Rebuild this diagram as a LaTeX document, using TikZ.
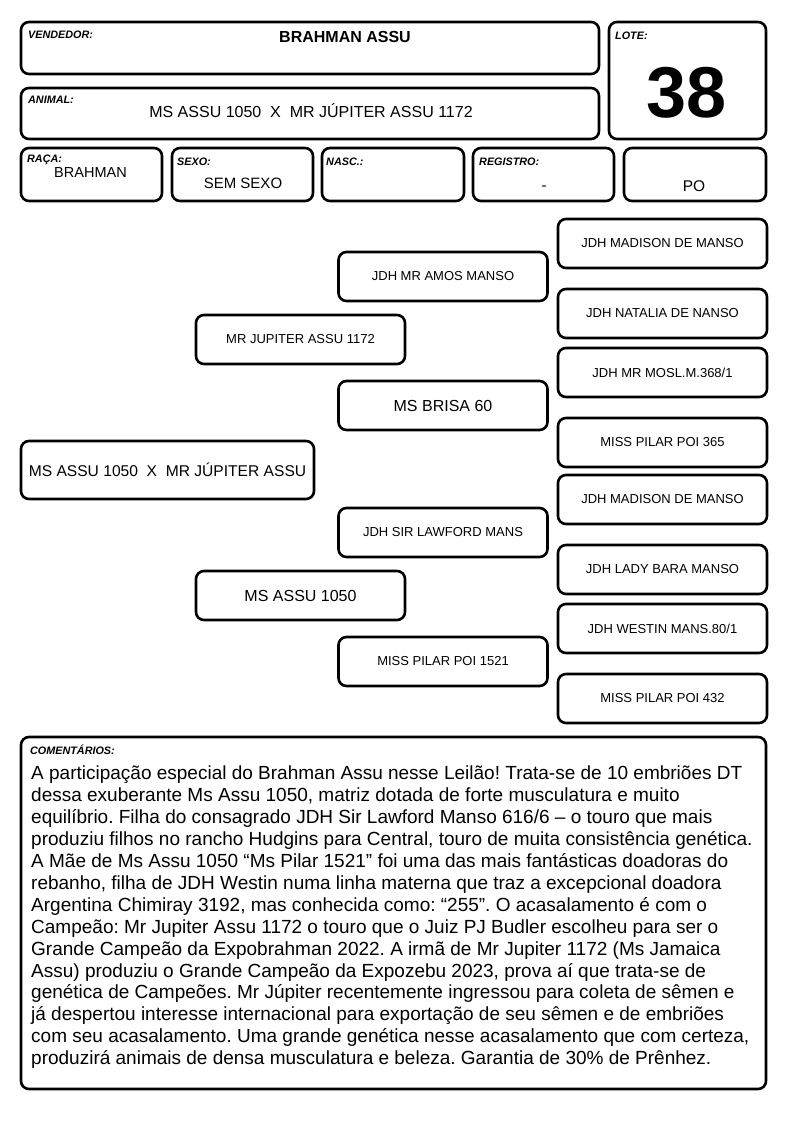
\documentclass[tikz,border=0pt]{standalone}
\usepackage{fontspec}
\setmainfont{Liberation Sans}
\frenchspacing
\begin{document}
\begin{tikzpicture}[x=1pt,y=-1pt,
  card/.style={draw=black, line width=2.6pt, rounded corners=8pt, inner sep=0pt},
  lbl/.style={anchor=north west, inner sep=0pt, font=\fontsize{10.8}{12}\selectfont\bfseries\itshape},
  val/.style={anchor=base, inner sep=0pt},
  ped/.style={card, minimum width=209pt, minimum height=49pt, align=center, font=\fontsize{13}{15}\selectfont},
  pedbig/.style={ped, font=\fontsize{16}{18}\selectfont}]
\useasboundingbox (0,0) rectangle (794,1123);
% header
\node[card, minimum width=578pt, minimum height=52pt] (vend) at (310,48) {};
\node[lbl] (vendl) at (28,31) {VENDEDOR:};
\node[val, font=\fontsize{16}{18}\selectfont\bfseries] (vendv) at (345,43) {BRAHMAN ASSU};
\node[card, minimum width=157pt, minimum height=117pt] (lote) at (687.5,80.5) {};
\node[lbl] (lotel) at (615,32) {LOTE:};
\node[val, font=\fontsize{72}{80}\selectfont\bfseries] (lotev) at (686.5,118) {38};
\node[card, minimum width=578pt, minimum height=51pt] (anim) at (310,113.5) {};
\node[lbl] (animl) at (28,96) {ANIMAL:};
\node[val, font=\fontsize{16}{18}\selectfont] (animv) at (311,118) {MS ASSU 1050\ \ X\ \ MR JÚPITER ASSU 1172};
\node[card, minimum width=141pt, minimum height=53pt] (raca) at (91.5,174.5) {};
\node[lbl] (racal) at (27,155) {RAÇA:};
\node[val, font=\fontsize{14.5}{17}\selectfont] (racav) at (90.5,178) {BRAHMAN};
\node[card, minimum width=141pt, minimum height=53pt] (sexo) at (242.5,174.5) {};
\node[lbl] (sexol) at (177,158) {SEXO:};
\node[val, font=\fontsize{15}{17}\selectfont] (sexov) at (243,189) {SEM SEXO};
\node[card, minimum width=142pt, minimum height=53pt] (nasc) at (393,174.5) {};
\node[lbl] (nascl) at (326,158) {NASC.:};
\node[card, minimum width=141pt, minimum height=53pt] (reg) at (543.5,174.5) {};
\node[lbl] (regl) at (479,158) {REGISTRO:};
\node[val, font=\fontsize{15}{17}\selectfont] (regv) at (544,191) {-};
\node[card, minimum width=142pt, minimum height=53pt] (po) at (695,174.5) {};
\node[val, font=\fontsize{15.5}{17}\selectfont] (pov) at (694,192) {PO};
% pedigree
\node[ped, font=\fontsize{15.6}{18}\selectfont, minimum width=293pt, minimum height=58pt] (g0) at (167.5,470) {MS ASSU 1050\ \ X\ \ MR JÚPITER ASSU};
\node[ped] (g1a) at (300.5,339.5) {MR JUPITER ASSU 1172};
\node[pedbig] (g1b) at (300.5,595.5) {MS ASSU 1050};
\node[ped] (g2a) at (443,276.5) {JDH MR AMOS MANSO};
\node[pedbig] (g2b) at (443,405.5) {MS BRISA 60};
\node[ped] (g2c) at (443,532.5) {JDH SIR LAWFORD MANS};
\node[ped] (g2d) at (443,661.5) {MISS PILAR POI 1521};
\node[ped] (g3a) at (662.5,243.5) {JDH MADISON DE MANSO};
\node[ped] (g3b) at (662.5,313.5) {JDH NATALIA DE NANSO};
\node[ped] (g3c) at (662.5,372.5) {JDH MR MOSL.M.368/1};
\node[ped] (g3d) at (662.5,442.5) {MISS PILAR POI 365};
\node[ped] (g3e) at (662.5,499.5) {JDH MADISON DE MANSO};
\node[ped] (g3f) at (662.5,569.5) {JDH LADY BARA MANSO};
\node[ped] (g3g) at (662.5,628.5) {JDH WESTIN MANS.80/1};
\node[ped] (g3h) at (662.5,698.5) {MISS PILAR POI 432};
% comments
\node[card, minimum width=745pt, minimum height=352pt] (com) at (393.5,913) {};
\node[lbl] (coml) at (30,745) {COMENTÁRIOS:};
\node[anchor=north west, inner sep=0pt, align=left, font=\fontsize{19}{21.9}\selectfont] (comv) at (31,766) {A participação especial do Brahman Assu nesse Leilão! Trata-se de 10 embriões DT\\
dessa exuberante Ms Assu 1050, matriz dotada de forte musculatura e muito\\
equilíbrio. Filha do consagrado JDH Sir Lawford Manso 616/6 – o touro que mais\\
produziu filhos no rancho Hudgins para Central, touro de muita consistência genética.\\
A Mãe de Ms Assu 1050 “Ms Pilar 1521” foi uma das mais fantásticas doadoras do\\
rebanho, filha de JDH Westin numa linha materna que traz a excepcional doadora\\
Argentina Chimiray 3192, mas conhecida como: “255”. O acasalamento é com o\\
Campeão: Mr Jupiter Assu 1172 o touro que o Juiz PJ Budler escolheu para ser o\\
Grande Campeão da Expobrahman 2022. A irmã de Mr Jupiter 1172 (Ms Jamaica\\
Assu) produziu o Grande Campeão da Expozebu 2023, prova aí que trata-se de\\
genética de Campeões. Mr Júpiter recentemente ingressou para coleta de sêmen e\\
já despertou interesse internacional para exportação de seu sêmen e de embriões\\
com seu acasalamento. Uma grande genética nesse acasalamento que com certeza,\\
produzirá animais de densa musculatura e beleza. Garantia de 30\% de Prênhez.};
\end{tikzpicture}
\end{document}
